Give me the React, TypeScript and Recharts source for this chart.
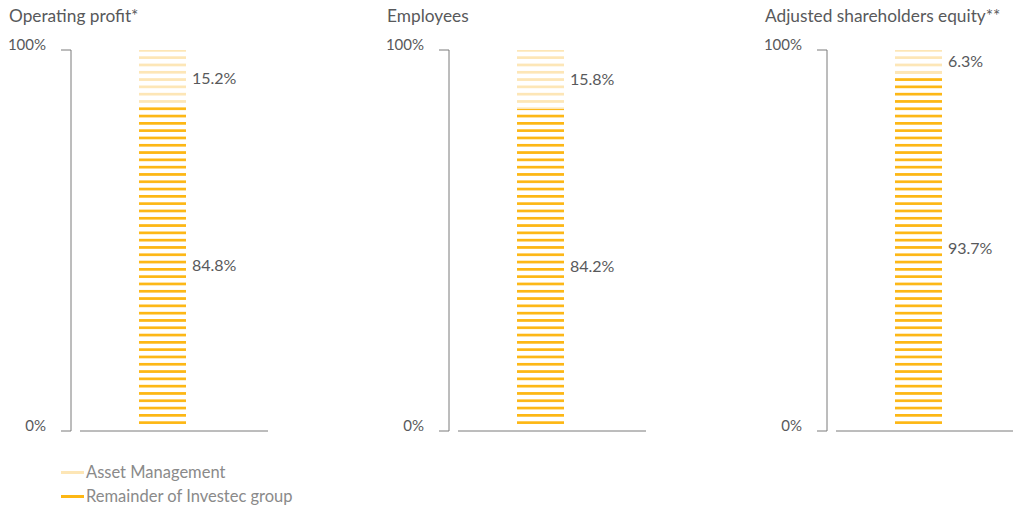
import React from 'react';
import { ComposedChart, Bar, Scatter, XAxis, YAxis, LabelList } from 'recharts';

const panelTitles = ['Operating profit*', 'Employees', 'Adjusted shareholders equity**'];
const assetManagement = [15.2, 15.8, 6.3];
const remainderGroup = [84.8, 84.2, 93.7];
const seriesNames = ['Asset Management', 'Remainder of Investec group'];
const yTicks = [0, 100];
const yTickLabels = ['0%', '100%'];

const LIGHT = '#FDE6B6';
const DARK = '#FDB714';
const TEXT = '#58595B';
const AXIS = '#7a7a7a';
const FONT = 'Lato, "Open Sans", sans-serif';

const PANEL_W = 378;

const YTick = (props: any) => {
  const { x, y, payload } = props;
  const idx = yTicks.indexOf(payload.value);
  return (
    <text x={x - 13} y={y - 6} textAnchor="end" dominantBaseline="central" fill={TEXT} fontSize={15} fontFamily={FONT}>
      {yTickLabels[idx]}
    </text>
  );
};

const Panel = ({ i }: { i: number }) => {
  const data = [{ name: panelTitles[i], am: assetManagement[i], rest: remainderGroup[i], total: assetManagement[i] + remainderGroup[i] }];
  const lightId = `stripeLight${i}`;
  const darkId = `stripeDark${i}`;
  return (
    <div style={{ position: 'absolute', left: i * PANEL_W, top: 0, width: PANEL_W, height: 508 }}>
      <div style={{ position: 'absolute', left: 9, top: 5, fontFamily: FONT, fontSize: 17.3, color: TEXT, whiteSpace: 'nowrap' }}>
        {panelTitles[i]}
      </div>
      <ComposedChart width={PANEL_W} height={508} data={data} margin={{ top: 50, right: 110, bottom: 76, left: 0 }}>
        <defs>
          <pattern id={lightId} patternUnits="userSpaceOnUse" x={0} y={49} width={10} height={7.3}>
            <rect x={0} y={0} width={10} height={2.7} fill={LIGHT} />
          </pattern>
          <pattern id={darkId} patternUnits="userSpaceOnUse" x={0} y={49} width={10} height={7.3}>
            <rect x={0} y={0} width={10} height={2.7} fill={DARK} />
          </pattern>
        </defs>
        <XAxis
          dataKey="name"
          height={1}
          tick={false}
          tickLine={false}
          padding={{ left: 0, right: 14 }}
          axisLine={{ stroke: AXIS, strokeWidth: 1, strokeDasharray: '0 9 1000 0' }}
        />
        <YAxis
          yAxisId="axis"
          type="number"
          domain={[0, 100]}
          ticks={yTicks}
          width={71}
          tickSize={10}
          tickLine={{ stroke: AXIS }}
          axisLine={{ stroke: AXIS }}
          tick={<YTick />}
          interval={0}
        />
        <YAxis yAxisId="bars" type="number" domain={[-1.9, 100]} hide allowDataOverflow />
        <Scatter yAxisId="axis" dataKey="total" shape={<g />} legendType="none" isAnimationActive={false} />
        <Bar yAxisId="bars" dataKey="rest" stackId="s" barSize={47} fill={`url(#${darkId})`} isAnimationActive={false} name={seriesNames[1]}>
          <LabelList dataKey="rest" position="right" offset={6} formatter={(v: any) => `${v}%`} fill={TEXT} fontSize={16} fontFamily={FONT} />
        </Bar>
        <Bar yAxisId="bars" dataKey="am" stackId="s" barSize={47} fill={`url(#${lightId})`} isAnimationActive={false} name={seriesNames[0]}>
          <LabelList dataKey="am" position="right" offset={6} formatter={(v: any) => `${v}%`} fill={TEXT} fontSize={16} fontFamily={FONT} />
        </Bar>
      </ComposedChart>
    </div>
  );
};

const Legend = () => {
  const colors = [LIGHT, DARK];
  return (
    <div style={{ position: 'absolute', left: 61, top: 460 }}>
      {seriesNames.map((n, k) => (
        <div key={n} style={{ display: 'flex', alignItems: 'center', height: 24, fontFamily: FONT, fontSize: 16.5, color: '#8a8a8a', whiteSpace: 'nowrap' }}>
          <span style={{ display: 'inline-block', width: 23, height: 3, background: colors[k], marginRight: 2 }} />
          {n}
        </div>
      ))}
    </div>
  );
};

export default function App() {
  return (
    <div style={{ position: 'absolute', left: 0, top: 0, width: 1013, height: 508, overflow: 'hidden', background: '#fff' }}>
      {panelTitles.map((_, i) => (
        <Panel key={i} i={i} />
      ))}
      <Legend />
    </div>
  );
}
